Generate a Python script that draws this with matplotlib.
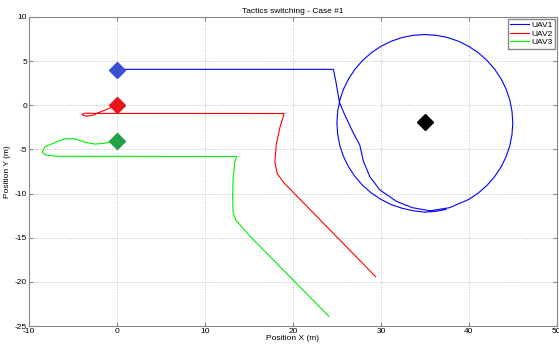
import matplotlib
matplotlib.use("Agg")
import matplotlib.pyplot as plt

# UAV trajectories (m)
# UAV1: straight run, swing in towards the target, then one loiter lap around it
uav1_x = [0.0, 24.6, 24.9, 25.3, 25.9, 26.8, 27.6, 28.0, 28.75, 29.9, 31.8, 33.6, 35.6, 37.8,
          40.0, 41.09, 42.07, 42.93, 43.66, 44.24, 44.66, 44.91, 45.0, 44.91, 44.66, 44.24,
          43.66, 42.93, 42.07, 41.09, 40.0, 38.83, 37.59, 36.31, 35.0, 33.69, 32.41, 31.17,
          30.0, 28.91, 27.93, 27.07, 26.34, 25.76, 25.34, 25.09, 25.0, 25.09, 25.34, 25.76,
          26.34, 27.07, 27.93, 28.91, 30.0, 31.17, 32.41, 33.69, 35.0, 36.31, 37.4]
uav1_y = [4.06, 4.06, 2.6, 0.3, -1.1, -3.0, -4.5, -6.3, -8.1, -9.6, -10.9, -11.6, -11.95, -11.6,
          -10.66, -9.93, -9.07, -8.09, -7.0, -5.83, -4.59, -3.31, -2.0, -0.69, 0.59, 1.83,
          3.0, 4.09, 5.07, 5.93, 6.66, 7.24, 7.66, 7.91, 8.0, 7.91, 7.66, 7.24,
          6.66, 5.93, 5.07, 4.09, 3.0, 1.83, 0.59, -0.69, -2.0, -3.31, -4.59, -5.83,
          -7.0, -8.09, -9.07, -9.93, -10.66, -11.24, -11.66, -11.95, -12.1, -12.0, -11.8]

uav2_x = [0.0, -1.0, -2.0, -2.8, -3.5, -4.0, -3.7, -3.0, -2.0, 19.0, 18.5, 18.1, 17.95, 18.2, 18.9, 29.4]
uav2_y = [0.0, -0.4, -0.8, -1.15, -1.25, -1.05, -0.9, -0.92, -0.93, -0.94, -2.6, -4.5, -6.4, -7.7, -8.7, -19.4]

uav3_x = [0.0, -1.4, -2.5, -3.6, -4.8, -5.9, -7.0, -8.2, -8.5, -8.2, -7.0, 13.6, 13.4, 13.2, 13.15,
          13.2, 13.5, 14.3, 14.9, 24.1]
uav3_y = [-4.0, -4.3, -4.4, -4.2, -3.8, -3.8, -4.2, -4.7, -5.3, -5.6, -5.78, -5.8, -6.4, -8.2, -10.2,
          -12.1, -13.0, -13.9, -14.6, -23.9]

# start points and target
start_x = [0, 0, 0]
start_y = [4, 0, -4]
start_colors = ["#3b4fd3", "#e8141c", "#20a245"]
target = (35.0, -1.9)

labels = ["UAV1", "UAV2", "UAV3"]
line_colors = ["#0000ff", "#ff0000", "#00ee00"]

plt.rcParams["font.family"] = ["Liberation Sans", "DejaVu Sans"]
plt.rcParams["axes.unicode_minus"] = False

fig = plt.figure(figsize=(5.59, 3.44), dpi=100)
ax = fig.add_axes([0.052, 0.052, 0.944, 0.899])

for xs, ys, c, lab in zip([uav1_x, uav2_x, uav3_x], [uav1_y, uav2_y, uav3_y], line_colors, labels):
    ax.plot(xs, ys, color=c, lw=0.8, label=lab)

for x, y, c in zip(start_x, start_y, start_colors):
    ax.plot(x, y, marker="D", ms=8, color=c, mec=c, ls="none")
ax.plot(*target, marker="D", ms=8, color="black", ls="none")

ax.set_xlim(-10, 50)
ax.set_ylim(-25, 10)
ax.set_xticks(range(-10, 51, 10))
ax.set_yticks(range(-25, 11, 5))
ax.tick_params(direction="in", top=True, right=True, labelsize=6, length=3, color="#888888", pad=1.5)
ax.grid(True, ls=":", color="#bbbbbb", lw=0.7)
for s in ax.spines.values():
    s.set_color("#888888")

ax.set_title("Tactics switching - Case #1", fontsize=6, pad=3)
ax.set_xlabel("Position X (m)", fontsize=6, labelpad=0)
ax.set_ylabel("Position Y (m)", fontsize=6, labelpad=3)

ax.legend(loc="upper right", fontsize=6, handlelength=2.2, borderpad=0.3, labelspacing=0.1,
          handletextpad=0.3, fancybox=False, edgecolor="#888888", framealpha=1, borderaxespad=0.2)

fig.savefig("out.png", dpi=100)
